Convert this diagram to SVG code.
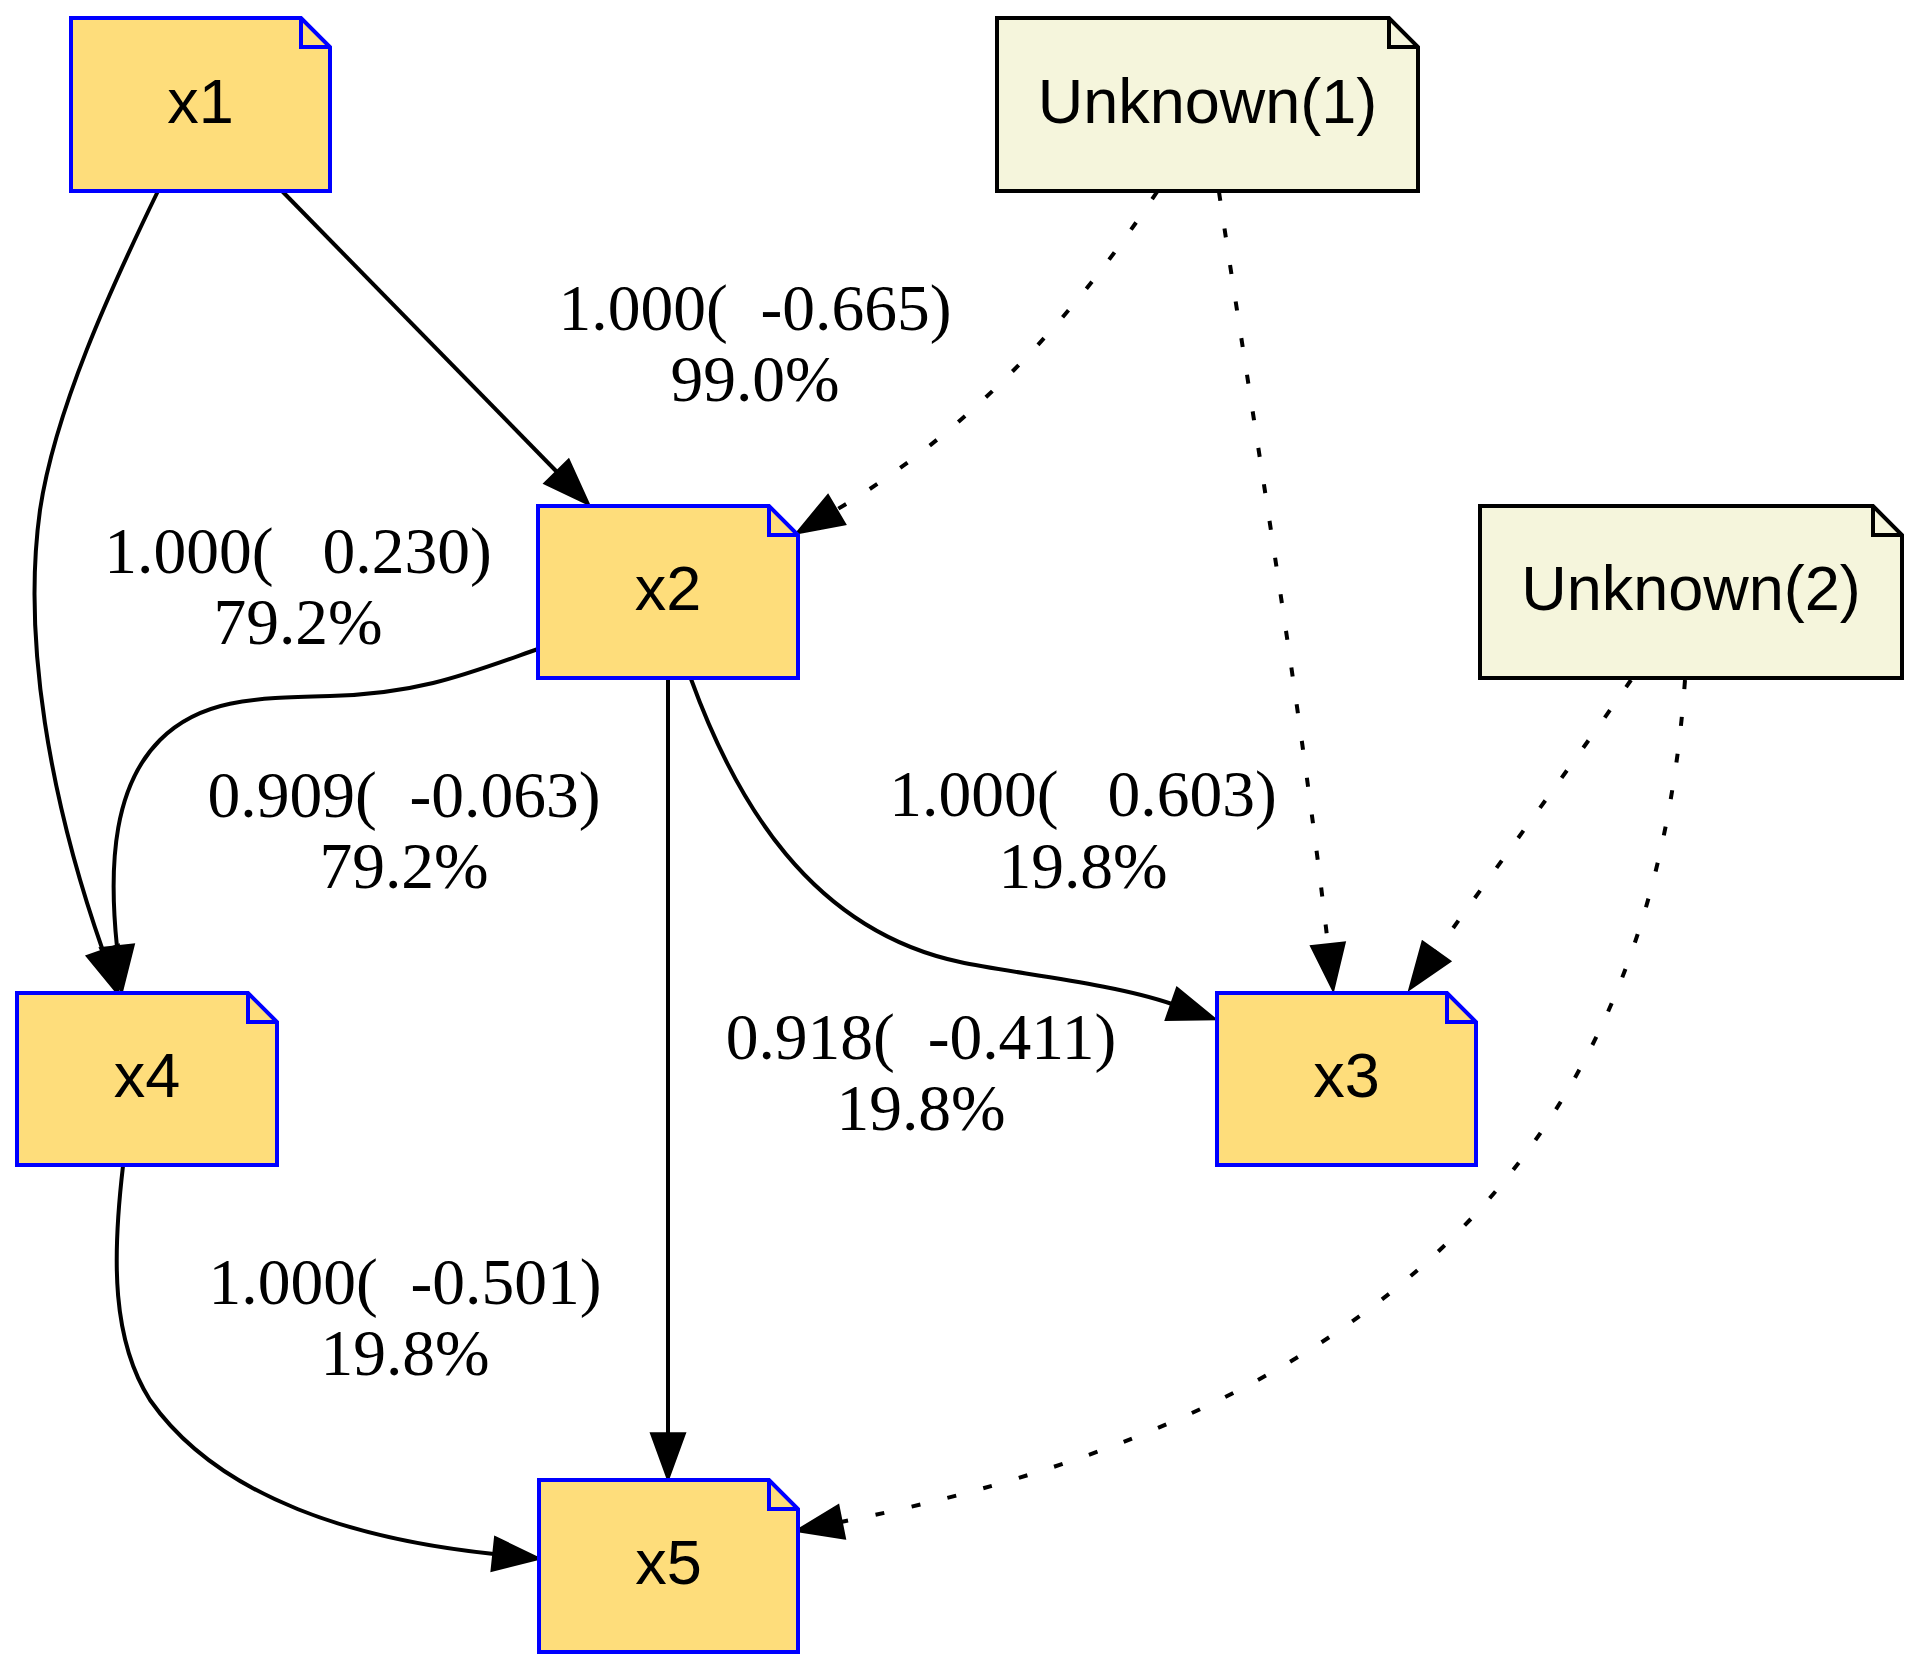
<svg xmlns="http://www.w3.org/2000/svg" width="1920" height="1672" viewBox="0 0 1920 1672">
  <style>
    .obs path.body { fill: #FEDD7B; stroke: #0000FF; stroke-width: 4; stroke-linejoin: miter; }
    .obs path.fold { fill: none; stroke: #0000FF; stroke-width: 4; }
    .lat path.body { fill: #F5F5DC; stroke: #000000; stroke-width: 4; stroke-linejoin: miter; }
    .lat path.fold { fill: none; stroke: #000000; stroke-width: 4; }
    .nlabel { font-family: "Liberation Sans", Arial, sans-serif; font-size: 63px; fill: #000; text-anchor: middle; }
    .edge { fill: none; stroke: #000; stroke-width: 4; marker-end: url(#arrow); }
    .edge.dotted { stroke-dasharray: 9 28; }
    .elabel { font-family: "Liberation Serif", "Times New Roman", serif; font-size: 65.5px; fill: #000; text-anchor: middle; white-space: pre; }
  </style>
  <defs>
    <marker id="arrow" markerUnits="userSpaceOnUse" viewBox="-4 -22 56 44" refX="0" refY="0" markerWidth="56" markerHeight="44" orient="auto" overflow="visible">
      <path d="M0,-16 L44,0 L0,16 Z" fill="#000" stroke="#000" stroke-width="3.5" stroke-dasharray="none"/>
    </marker>
  </defs>
  <rect width="1920" height="1672" fill="#FFFFFF"/>

  <!-- connectors -->
  <g id="edges">
    <path id="e_x1_x2" class="edge" d="M282,191 L557,472"/>
    <path id="e_x1_x4" class="edge" d="M158,191 C110,290 55,410 40,510 C22,640 50,800 103,951"/>
    <path id="e_u1_x2" class="edge dotted" d="M1157,192 C1110,262 1006,410 836,510"/>
    <path id="e_u1_x3" class="edge dotted" d="M1219,192 C1250,400 1300,700 1328,945"/>
    <path id="e_x2_x4" class="edge" d="M538,649 C470,673 420,694 330,696 C250,698 200,700 160,740 C115,785 108,860 117,947"/>
    <path id="e_x2_x3" class="edge" d="M691,679 C735,800 810,930 960,962 C1010,973 1112,983 1172,1004"/>
    <path id="e_x2_x5" class="edge" d="M668,678 L668,1434"/>
    <path id="e_u2_x3" class="edge dotted" d="M1631,680 C1590,740 1480,890 1436,952"/>
    <path id="e_u2_x5" class="edge dotted" d="M1685,680 C1654,1114 1423,1406 841,1522"/>
    <path id="e_x4_x5" class="edge" d="M123,1166 C112,1260 112,1340 150,1400 C220,1500 360,1540 494,1554"/>

    <g id="edge_labels" xml:space="preserve">
      <text class="elabel"><tspan x="755" y="330">1.000(  -0.665)</tspan><tspan x="755" y="401">99.0%</tspan></text>
      <text class="elabel"><tspan x="298" y="573">1.000(   0.230)</tspan><tspan x="298" y="644">79.2%</tspan></text>
      <text class="elabel"><tspan x="404" y="817">0.909(  -0.063)</tspan><tspan x="404" y="888">79.2%</tspan></text>
      <text class="elabel"><tspan x="1083" y="816">1.000(   0.603)</tspan><tspan x="1083" y="888">19.8%</tspan></text>
      <text class="elabel"><tspan x="921" y="1059">0.918(  -0.411)</tspan><tspan x="921" y="1130">19.8%</tspan></text>
      <text class="elabel"><tspan x="405" y="1304">1.000(  -0.501)</tspan><tspan x="405" y="1375">19.8%</tspan></text>
    </g>
  </g>

  <!-- nodes -->
  <g id="node_x1" class="obs">
    <path class="body" d="M71,18 L301,18 L330,47 L330,191 L71,191 Z"/>
    <path class="fold" d="M301,18 L301,47 L330,47"/>
    <text class="nlabel" x="200.5" y="123">x1</text>
  </g>
  <g id="node_unknown1" class="lat">
    <path class="body" d="M997,18 L1389,18 L1418,47 L1418,191 L997,191 Z"/>
    <path class="fold" d="M1389,18 L1389,47 L1418,47"/>
    <text class="nlabel" x="1207.5" y="123">Unknown(1)</text>
  </g>
  <g id="node_x2" class="obs">
    <path class="body" d="M538,506 L769,506 L798,535 L798,678 L538,678 Z"/>
    <path class="fold" d="M769,506 L769,535 L798,535"/>
    <text class="nlabel" x="668" y="610">x2</text>
  </g>
  <g id="node_unknown2" class="lat">
    <path class="body" d="M1480,506 L1873,506 L1902,535 L1902,678 L1480,678 Z"/>
    <path class="fold" d="M1873,506 L1873,535 L1902,535"/>
    <text class="nlabel" x="1691" y="610">Unknown(2)</text>
  </g>
  <g id="node_x4" class="obs">
    <path class="body" d="M17,993 L248,993 L277,1022 L277,1165 L17,1165 Z"/>
    <path class="fold" d="M248,993 L248,1022 L277,1022"/>
    <text class="nlabel" x="147" y="1097">x4</text>
  </g>
  <g id="node_x3" class="obs">
    <path class="body" d="M1217,993 L1447,993 L1476,1022 L1476,1165 L1217,1165 Z"/>
    <path class="fold" d="M1447,993 L1447,1022 L1476,1022"/>
    <text class="nlabel" x="1346.5" y="1097">x3</text>
  </g>
  <g id="node_x5" class="obs">
    <path class="body" d="M539,1480 L769,1480 L798,1509 L798,1652 L539,1652 Z"/>
    <path class="fold" d="M769,1480 L769,1509 L798,1509"/>
    <text class="nlabel" x="668.5" y="1584">x5</text>
  </g>
</svg>
